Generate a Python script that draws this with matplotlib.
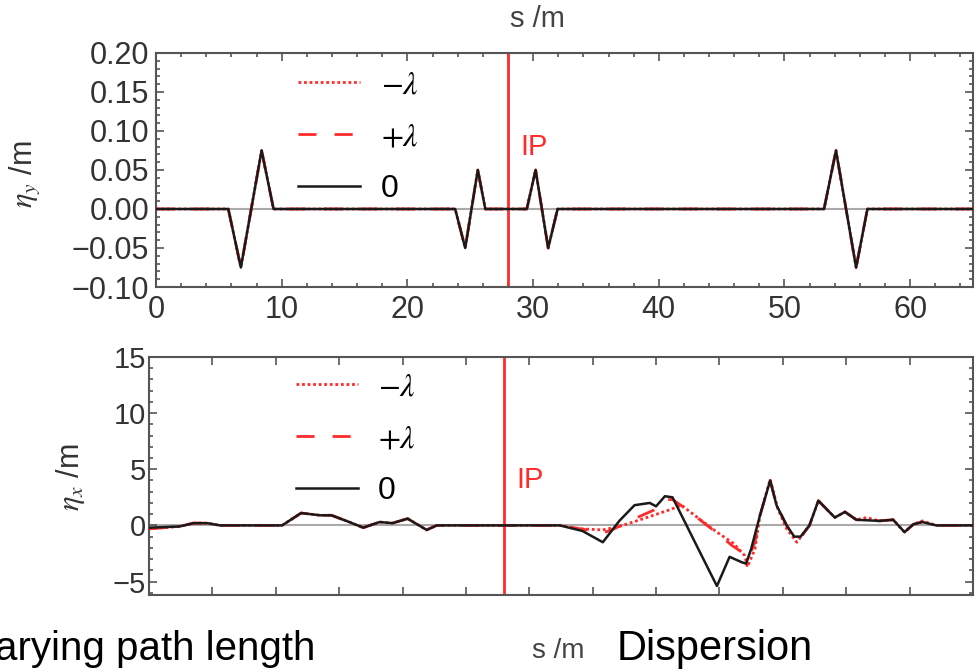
import matplotlib
matplotlib.use("Agg")
import matplotlib.pyplot as plt
from matplotlib.ticker import MultipleLocator, NullFormatter, FuncFormatter

plt.rcParams['font.family'] = ['Liberation Sans', 'DejaVu Sans']
plt.rcParams['mathtext.fontset'] = 'stix'

# vertical dispersion eta_y (all three cases overlap)
s_y = [0, 5.75, 6.75, 8.4, 9.35, 23.8, 24.6, 25.6, 26.2, 29.5, 30.2, 31.2, 31.95,
       53.15, 54.1, 55.7, 56.6, 65]
eta_y = [0, 0, -0.075, 0.075, 0, 0, -0.05, 0.05, 0, 0, 0.05, -0.05, 0,
         0, 0.075, -0.075, 0, 0]

# horizontal dispersion eta_x, nominal (0)
s_x0 = [0, 2.4, 3.5, 4.6, 5.6, 10.5, 12.0, 13.5, 14.4, 15.8, 16.9, 18.2, 19.2, 20.4,
        21.9, 22.7, 32.4, 34.2, 35.8, 37.1, 38.3, 39.5, 40.0, 40.7, 41.3, 43.2, 44.8,
        45.8, 46.8, 47.1, 47.5, 48.2, 49.0, 49.5, 50.3, 50.9, 51.4, 52.1, 52.8, 54.1,
        54.9, 55.8, 57.6, 58.7, 59.6, 60.3, 61.0, 62.1, 65]
eta_x0 = [-0.2, -0.1, 0.2, 0.2, 0.0, 0.0, 1.1, 0.9, 0.9, 0.3, -0.2, 0.3, 0.2, 0.6,
          -0.4, 0.0, 0.0, -0.5, -1.5, 0.4, 1.8, 2.0, 1.7, 2.6, 2.5, -1.8, -5.4,
          -2.8, -3.3, -3.4, -2.1, 0.9, 4.0, 1.8, 0.0, -1.0, -1.0, 0.0, 2.2, 0.7,
          1.2, 0.5, 0.4, 0.5, -0.6, 0.1, 0.3, 0.0, 0.0]

# -lambda
s_xm = [0, 2.4, 3.5, 4.6, 5.6, 10.5, 12.0, 13.5, 14.4, 15.8, 16.9, 18.2, 19.2, 20.4,
        21.9, 22.7, 32.4, 34.0, 35.8, 37.1, 39.0, 41.1, 42.0, 43.5, 44.8, 46.1, 47.0,
        47.2, 47.8, 48.2, 49.0, 49.6, 50.3, 51.1, 52.1, 52.8, 54.1, 54.9, 55.8, 56.6,
        57.6, 58.7, 59.6, 60.3, 61.0, 62.1, 65]
eta_xm = [-0.3, -0.1, 0.2, 0.2, 0.0, 0.0, 1.1, 0.9, 0.9, 0.3, -0.2, 0.3, 0.2, 0.6,
          -0.4, 0.0, 0.0, -0.3, -0.4, -0.1, 0.6, 1.4, 1.8, 0.5, -0.6, -1.6, -2.7,
          -3.7, -2.1, 0.9, 4.1, 1.5, -0.3, -1.5, 0.0, 2.2, 0.7, 1.2, 0.5, 0.7,
          0.4, 0.5, -0.6, 0.1, 0.4, 0.0, 0.0]

# +lambda
s_xp = [0, 2.4, 3.5, 4.6, 5.6, 10.5, 12.0, 13.5, 14.4, 15.8, 16.9, 18.2, 19.2, 20.4,
        21.9, 22.7, 32.4, 34.5, 35.8, 36.7, 38.5, 39.9, 40.7, 41.3, 42.2, 44.6, 46.0,
        46.8, 47.3, 47.8, 48.2, 49.0, 49.5, 50.3, 50.9, 51.4, 52.1, 52.8, 54.1, 54.9,
        55.8, 57.6, 58.7, 59.6, 60.3, 61.0, 62.1, 65]
eta_xp = [-0.3, -0.1, 0.2, 0.2, 0.0, 0.0, 1.1, 0.9, 0.9, 0.3, -0.2, 0.3, 0.2, 0.6,
          -0.4, 0.0, 0.0, -0.4, -0.7, -0.3, 0.7, 1.4, 2.3, 2.3, 1.6, -0.5, -1.8,
          -2.4, -2.9, -1.5, 0.9, 4.0, 1.8, 0.0, -1.1, -1.1, 0.0, 2.2, 0.7, 1.2,
          0.5, 0.4, 0.5, -0.6, 0.1, 0.3, 0.0, 0.0]

s_ip = 28.0
labels = [r'$-\lambda$', r'$+\lambda$', '0']

red = '#ff2a2a'
blk = '#1a1a1a'
spine = '#555555'
tickc = '#333333'

fig = plt.figure(figsize=(9.77, 6.69), dpi=100)
ax1 = fig.add_axes([0.1597, 0.571, 0.8362, 0.3498])
ax2 = fig.add_axes([0.1525, 0.1106, 0.8434, 0.3558])


def style(ax, fs):
    for sp in ax.spines.values():
        sp.set_color(spine)
        sp.set_linewidth(1.5)
    ax.tick_params(which='both', direction='in', top=True, right=True,
                   color=spine, labelcolor=tickc, labelsize=fs, width=1.2)
    ax.tick_params(which='major', length=6)
    ax.tick_params(which='minor', length=3)


def draw(ax, sm, em, sp, ep, s0, e0, fs, anchor):
    ax.axhline(0, color='#aaaaaa', lw=1.5, zorder=1)
    ax.axvline(s_ip, color=red, lw=2, zorder=2)
    ax.plot(sm, em, color=red, lw=2, ls=(0, (1, 1)), label=labels[0], zorder=3)
    ax.plot(sp, ep, color=red, lw=2, ls=(0, (6.5, 6.5)), label=labels[1], zorder=3)
    ax.plot(s0, e0, color=blk, lw=1.8, label=labels[2], zorder=4)
    ax.legend(loc='upper left', bbox_to_anchor=anchor, frameon=False, fontsize=fs,
              handlelength=1.95, handletextpad=0.63, labelspacing=0.68,
              borderpad=0, borderaxespad=0)


def minus_fmt(fmt):
    return FuncFormatter(lambda v, p: (fmt % v).replace('-', '\u2212'))


# top: eta_y
draw(ax1, s_y, eta_y, s_y, eta_y, s_y, eta_y, 23, (0.174, 0.925))
ax1.set_xlim(0, 65)
ax1.set_ylim(-0.1, 0.2)
ax1.xaxis.set_major_locator(MultipleLocator(10))
ax1.xaxis.set_minor_locator(MultipleLocator(2))
ax1.yaxis.set_major_locator(MultipleLocator(0.05))
ax1.yaxis.set_minor_locator(MultipleLocator(0.01))
ax1.yaxis.set_major_formatter(minus_fmt('%.2f'))
style(ax1, 22)
ax1.tick_params(axis='y', pad=5)
ax1.tick_params(axis='x', pad=6)
ax1.text(29.0, 0.069, 'IP', color=red, fontsize=21, va='baseline')
ax1.set_ylabel(r'$\eta_y$ /m', fontsize=22, color=tickc)
ax1.yaxis.set_label_coords(-0.138, 0.483)

# bottom: eta_x
draw(ax2, s_xm, eta_xm, s_xp, eta_xp, s_x0, eta_x0, 23, (0.178, 0.935))
ax2.set_xlim(0, 65)
ax2.set_ylim(-6.2, 15)
ax2.xaxis.set_major_locator(MultipleLocator(5))
ax2.xaxis.set_major_formatter(NullFormatter())
ax2.yaxis.set_major_locator(MultipleLocator(5))
ax2.yaxis.set_minor_locator(MultipleLocator(1))
ax2.yaxis.set_major_formatter(minus_fmt('%d'))
style(ax2, 21)
ax2.tick_params(axis='y', pad=2)
ax2.text(29.0, 3.3, 'IP', color=red, fontsize=21, va='baseline')
ax2.set_ylabel(r'$\eta_x$ /m', fontsize=22, color=tickc)
ax2.yaxis.set_label_coords(-0.075, 0.496)

fig.text(510 / 977, 1 - 27 / 669, 's /m', fontsize=21, color='#444444', va='baseline')
fig.text(532 / 977, 1 - 658 / 669, 's /m', fontsize=20, color='#444444', va='baseline')
fig.text(315 / 977, 1 - 660 / 669, 'arying path length', fontsize=29, ha='right',
         va='baseline', color='black')
fig.text(617 / 977, 1 - 660 / 669, 'Dispersion', fontsize=30, va='baseline',
         color='black')

fig.savefig('out.png', dpi=100)
